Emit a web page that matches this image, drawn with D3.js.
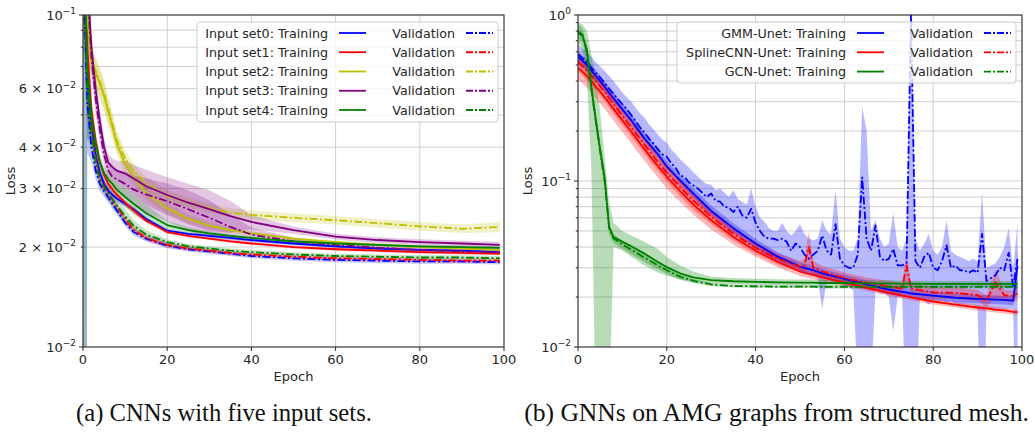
<!DOCTYPE html>
<html>
<head>
<meta charset="utf-8">
<script src="https://cdn.jsdelivr.net/npm/d3@7"></script>
<style>
  body { margin: 0; background: #fff; }
  svg { display: block; font-family: "DejaVu Sans", sans-serif; }
</style>
</head>
<body>
<svg id="fig" width="1035" height="436"></svg>
<script>
// ===== Data: (a) CNNs, five input sets =====
const epochsL = [0,1,2,3,4,5,6,7,8,10,12,15,20,25,30,35,40,50,60,70,80,90,99];

const set0Train = [0.2,0.065,0.047,0.038,0.0335,0.031,0.0296,0.0287,0.028,0.027,0.026,0.0243,0.0224,0.0219,0.0216,0.0213,0.021,0.0205,0.0201,0.0198,0.0196,0.0195,0.0193];
const set0Val   = [0.15,0.055,0.04,0.034,0.031,0.0295,0.0282,0.027,0.0258,0.0237,0.0222,0.0212,0.0202,0.0197,0.0194,0.0191,0.0188,0.0185,0.0183,0.0182,0.0181,0.0181,0.018];
const set1Train = [0.25,0.08,0.052,0.042,0.036,0.033,0.031,0.0298,0.0288,0.0272,0.0258,0.024,0.0222,0.0216,0.0212,0.0208,0.0205,0.02,0.0197,0.0195,0.0193,0.0192,0.0191];
const set1Val   = [0.2,0.07,0.046,0.037,0.032,0.0305,0.029,0.0278,0.0265,0.0243,0.0226,0.0213,0.0203,0.0198,0.0195,0.0192,0.019,0.0187,0.0185,0.0184,0.0183,0.0182,0.0182];
const set2Train = [0.3,0.1,0.072,0.067,0.062,0.057,0.051,0.046,0.041,0.0355,0.0325,0.029,0.0262,0.0243,0.0232,0.0225,0.022,0.0212,0.0207,0.0203,0.02,0.0198,0.0196];
const set2Val   = [0.3,0.1,0.073,0.068,0.063,0.058,0.052,0.047,0.042,0.037,0.034,0.031,0.0285,0.0272,0.0262,0.0254,0.025,0.0245,0.0241,0.0236,0.0231,0.0227,0.023];
const set3Train = [0.35,0.13,0.08,0.06,0.048,0.04,0.036,0.0348,0.034,0.0333,0.0322,0.0305,0.0287,0.0272,0.026,0.0248,0.0238,0.0225,0.0215,0.021,0.0207,0.0205,0.0203];
const set3Val   = [0.3,0.12,0.075,0.056,0.045,0.038,0.034,0.0325,0.032,0.031,0.0298,0.0288,0.0275,0.026,0.0245,0.023,0.0218,0.0208,0.0203,0.0199,0.0196,0.0194,0.0193];
const set4Train = [0.22,0.07,0.05,0.041,0.036,0.0335,0.032,0.031,0.0298,0.0283,0.027,0.0253,0.0233,0.0225,0.022,0.0216,0.0213,0.0208,0.0205,0.0203,0.0201,0.02,0.0199];
const set4Val   = [0.18,0.06,0.044,0.036,0.032,0.0303,0.029,0.0278,0.0267,0.0248,0.0232,0.0218,0.0207,0.0201,0.0198,0.0195,0.0193,0.019,0.0188,0.0187,0.0186,0.0186,0.0185];

// relative std (band half width / mean); ~1 at epoch 0 means the band runs off the log axis
const set0TrainSd = [0.5,0.35,0.1,0.06,0.04,0.035,0.03,0.03,0.025,0.02,0.02,0.015,0.012,0.01,0.01,0.01,0.01,0.01,0.01,0.01,0.01,0.01,0.01];
const set0ValSd   = [0.999999999999,0.3,0.1,0.06,0.05,0.04,0.035,0.035,0.03,0.025,0.025,0.02,0.018,0.016,0.016,0.016,0.016,0.016,0.016,0.016,0.016,0.016,0.016];
const set1TrainSd = [0.5,0.3,0.1,0.06,0.04,0.035,0.03,0.03,0.025,0.02,0.02,0.015,0.012,0.01,0.01,0.01,0.01,0.01,0.01,0.01,0.01,0.01,0.01];
const set1ValSd   = [0.5,0.3,0.1,0.06,0.05,0.04,0.035,0.035,0.03,0.025,0.025,0.02,0.018,0.016,0.016,0.016,0.016,0.016,0.016,0.016,0.016,0.016,0.016];
const set2TrainSd = [0.5,0.3,0.1,0.1,0.1,0.1,0.09,0.08,0.07,0.06,0.05,0.045,0.04,0.03,0.025,0.02,0.015,0.012,0.012,0.012,0.012,0.012,0.012];
const set2ValSd   = [0.5,0.3,0.1,0.1,0.1,0.1,0.09,0.08,0.07,0.06,0.05,0.045,0.04,0.035,0.03,0.03,0.03,0.03,0.03,0.03,0.03,0.03,0.035];
const set3TrainSd = [0.5,0.3,0.12,0.1,0.08,0.07,0.06,0.06,0.07,0.09,0.1,0.12,0.13,0.14,0.14,0.11,0.05,0.025,0.02,0.02,0.02,0.02,0.02];
const set3ValSd   = [0.5,0.3,0.12,0.1,0.08,0.07,0.06,0.06,0.07,0.09,0.1,0.12,0.13,0.14,0.13,0.09,0.05,0.025,0.02,0.02,0.02,0.02,0.02];
const set4TrainSd = [0.5,0.3,0.1,0.06,0.05,0.05,0.05,0.05,0.06,0.07,0.07,0.06,0.03,0.02,0.015,0.012,0.01,0.01,0.01,0.01,0.01,0.01,0.01];
const set4ValSd   = [0.999999999999,0.3,0.1,0.06,0.05,0.05,0.05,0.05,0.05,0.05,0.04,0.03,0.02,0.016,0.016,0.016,0.016,0.016,0.016,0.016,0.016,0.016,0.016];

// ===== Data: (b) GNNs on AMG graphs =====
const epochsR = [0,1,2,3,4,5,6,7,8,10,12,15,18,20,23,26,30,35,40,45,50,51,52,53,55,60,65,70,73,74,75,80,85,90,92,94,96,98,99];

const gmmTrain   = [0.56,0.53,0.5,0.465,0.43,0.4,0.37,0.34,0.315,0.27,0.232,0.18,0.145,0.122,0.101,0.084,0.066,0.052,0.042,0.035,0.0305,0.03,0.0295,0.029,0.0278,0.0257,0.0238,0.0222,0.0215,0.0213,0.021,0.0204,0.0198,0.0195,0.0194,0.0193,0.0192,0.019,0.031];
const gmmTrainSd = [0.08,0.08,0.08,0.08,0.08,0.08,0.08,0.08,0.08,0.08,0.08,0.08,0.08,0.08,0.08,0.08,0.08,0.07,0.07,0.06,0.06,0.06,0.06,0.06,0.06,0.06,0.06,0.06,0.06,0.06,0.06,0.06,0.06,0.06,0.06,0.06,0.06,0.06,0.3];
const splineTrain   = [0.48,0.455,0.43,0.4,0.37,0.345,0.32,0.295,0.272,0.232,0.198,0.155,0.123,0.106,0.087,0.072,0.058,0.046,0.038,0.0325,0.0285,0.028,0.0276,0.0272,0.0263,0.0244,0.0227,0.0212,0.0204,0.0202,0.0199,0.0188,0.018,0.0173,0.0171,0.0168,0.0166,0.0163,0.0162];
const splineTrainSd = [0.15,0.15,0.15,0.15,0.15,0.15,0.15,0.15,0.15,0.15,0.15,0.15,0.15,0.15,0.14,0.13,0.12,0.1,0.08,0.07,0.06,0.06,0.06,0.06,0.05,0.045,0.04,0.04,0.04,0.04,0.04,0.04,0.04,0.04,0.04,0.04,0.04,0.04,0.04];
const splineVal   = [0.52,0.49,0.46,0.43,0.4,0.37,0.345,0.315,0.29,0.247,0.21,0.165,0.13,0.112,0.092,0.076,0.061,0.048,0.0395,0.034,0.0305,0.031,0.04,0.03,0.0285,0.026,0.0243,0.0232,0.0225,0.031,0.0225,0.0213,0.0212,0.0205,0.019,0.0245,0.0205,0.0203,0.021];
const splineValSd = [0.12,0.12,0.12,0.12,0.12,0.12,0.12,0.12,0.12,0.12,0.12,0.12,0.12,0.12,0.12,0.12,0.1,0.09,0.08,0.08,0.08,0.1,0.25,0.1,0.08,0.08,0.08,0.08,0.08,0.2,0.08,0.08,0.08,0.08,0.08,0.2,0.08,0.08,0.1];
const gcnTrain   = [0.78,0.75,0.62,0.37,0.235,0.155,0.105,0.053,0.046,0.043,0.0405,0.0365,0.0325,0.0303,0.0278,0.0263,0.0253,0.0249,0.0247,0.0245,0.0244,0.0244,0.0244,0.0244,0.0243,0.0243,0.0242,0.0242,0.0241,0.0241,0.0241,0.024,0.024,0.024,0.024,0.024,0.024,0.024,0.024];
const gcnTrainLo = [0.68,0.62,0.42,0.12,0.004,0.003,0.003,0.004,0.04,0.038,0.035,0.031,0.028,0.027,0.0255,0.0248,0.0242,0.0239,0.0237,0.0236,0.0235,0.0235,0.0235,0.0235,0.0234,0.0234,0.0234,0.0234,0.0233,0.0233,0.0233,0.0233,0.0233,0.0233,0.0233,0.0233,0.0233,0.0233,0.0233];
const gcnTrainHi = [0.9,0.88,0.8,0.58,0.42,0.26,0.14,0.075,0.056,0.05,0.047,0.043,0.039,0.035,0.031,0.0285,0.0265,0.026,0.0258,0.0256,0.0255,0.0255,0.0255,0.0254,0.0254,0.0253,0.0252,0.0252,0.0251,0.0251,0.0251,0.025,0.025,0.025,0.025,0.025,0.025,0.025,0.025];
const gcnVal   = [0.8,0.76,0.6,0.36,0.23,0.15,0.1,0.052,0.045,0.0415,0.0385,0.0345,0.031,0.029,0.0265,0.025,0.0238,0.0233,0.0232,0.0231,0.0231,0.0231,0.0231,0.0231,0.023,0.023,0.023,0.023,0.023,0.023,0.023,0.023,0.023,0.023,0.023,0.023,0.023,0.023,0.023];
const gcnValSd = [0.1,0.1,0.1,0.1,0.1,0.1,0.1,0.08,0.06,0.06,0.06,0.06,0.05,0.05,0.04,0.03,0.02,0.02,0.02,0.02,0.02,0.02,0.02,0.02,0.02,0.02,0.02,0.02,0.02,0.02,0.02,0.02,0.02,0.02,0.02,0.02,0.02,0.02,0.02];

// GMM-Unet validation, one value per epoch 0..99 (noisy)
const gmmVal = [0.58,0.55,0.52,0.48,0.45,0.42,0.39,0.36,0.335,0.31,
  0.29,0.27,0.25,0.228,0.21,0.195,0.18,0.168,0.155,0.145,
  0.14,0.128,0.12,0.108,0.106,0.098,0.094,0.09,0.085,0.08,
  0.084,0.076,0.075,0.07,0.069,0.065,0.07,0.062,0.06,0.068,
  0.056,0.05,0.046,0.045,0.045,0.044,0.045,0.043,0.038,0.042,
  0.04,0.036,0.034,0.036,0.038,0.047,0.038,0.036,0.055,0.034,
  0.031,0.03,0.03,0.036,0.105,0.045,0.038,0.054,0.035,0.033,
  0.034,0.039,0.031,0.031,0.032,1.05,0.033,0.03,0.035,0.037,
  0.03,0.029,0.033,0.041,0.03,0.031,0.029,0.029,0.028,0.029,
  0.028,0.048,0.025,0.026,0.027,0.03,0.029,0.037,0.023,0.034];
const gmmValHi = [0.66,0.63,0.6,0.56,0.52,0.49,0.46,0.43,0.4,0.37,
  0.34,0.32,0.3,0.275,0.255,0.24,0.22,0.205,0.19,0.178,
  0.17,0.155,0.146,0.135,0.128,0.12,0.113,0.106,0.1,0.096,
  0.095,0.088,0.09,0.085,0.08,0.088,0.078,0.075,0.072,0.09,
  0.07,0.06,0.057,0.052,0.05,0.05,0.056,0.05,0.047,0.05,
  0.055,0.048,0.045,0.044,0.045,0.058,0.05,0.048,0.088,0.045,
  0.04,0.038,0.038,0.045,0.28,0.2,0.05,0.058,0.045,0.04,
  0.042,0.064,0.04,0.038,0.045,1.5,0.045,0.038,0.042,0.048,
  0.038,0.036,0.04,0.058,0.038,0.036,0.035,0.034,0.033,0.034,
  0.033,0.086,0.03,0.031,0.032,0.035,0.04,0.052,0.03,0.055];
const gmmValLo = [0.52,0.49,0.46,0.43,0.4,0.375,0.35,0.322,0.3,0.28,
  0.26,0.243,0.225,0.205,0.19,0.175,0.162,0.15,0.14,0.13,
  0.122,0.113,0.105,0.097,0.091,0.085,0.08,0.075,0.07,0.066,
  0.063,0.06,0.057,0.054,0.051,0.049,0.047,0.045,0.043,0.041,
  0.039,0.038,0.036,0.035,0.034,0.033,0.032,0.031,0.03,0.03,
  0.029,0.028,0.027,0.027,0.026,0.017,0.025,0.025,0.024,0.024,
  0.023,0.023,0.022,0.006,0.001,0.001,0.006,0.022,0.021,0.021,
  0.02,0.0125,0.02,0.02,0.003,0.001,0.003,0.02,0.019,0.018,
  0.019,0.019,0.019,0.0185,0.019,0.018,0.018,0.018,0.018,0.018,
  0.017,0.001,0.017,0.017,0.017,0.017,0.017,0.017,0.017,0.001];

const xTicks = [0,20,40,60,80,100];

const svg = d3.select("#fig");
const cText = "#262626", cGrid = "#cfcfcf", cSpine = "#262626";

function withSd(epochs, vals, sd){
  return epochs.map((e,i) => ({ e, v: vals[i], lo: vals[i]*(1-sd[i]), hi: vals[i]*(1+sd[i]) }));
}
function withBounds(epochs, vals, lo, hi){
  return epochs.map((e,i) => ({ e, v: vals[i], lo: lo[i], hi: hi[i] }));
}

function sciLabel(g, x, y, mant, exp){
  const t = g.append("text").attr("x", x).attr("y", y + 4.5)
    .attr("text-anchor","end").attr("font-size", 13).attr("fill", cText);
  t.append("tspan").text(mant ? mant + " \u00d7 10" : "10");
  t.append("tspan").attr("dy", -5.5).attr("font-size", 9).text(exp);
}

function drawPanel(p){
  const x = d3.scaleLinear().domain([0,100]).range([p.x0, p.x1]);
  const y = d3.scaleLog().domain(p.yDomain).range([p.y1, p.y0]);
  const g = svg.append("g");

  const clipId = "clip-" + p.id;
  svg.append("defs").append("clipPath").attr("id", clipId)
    .append("rect").attr("x", p.x0).attr("y", p.y0).attr("width", p.x1 - p.x0).attr("height", p.y1 - p.y0);

  // grid
  const grid = g.append("g").attr("stroke", cGrid).attr("stroke-width", 1);
  p.gridY.forEach(v => grid.append("line").attr("x1", p.x0).attr("x2", p.x1).attr("y1", y(v)).attr("y2", y(v)));
  xTicks.forEach(v => grid.append("line").attr("x1", x(v)).attr("x2", x(v)).attr("y1", p.y0).attr("y2", p.y1));

  const plot = g.append("g").attr("clip-path", `url(#${clipId})`);
  const area = d3.area().x(d => x(d.e)).y0(d => y(d.lo)).y1(d => y(d.hi));
  const line = d3.line().x(d => x(d.e)).y(d => y(d.v));

  // bands under every line, as matplotlib collections
  p.series.forEach(s => {
    plot.append("path").datum(s.pts).attr("d", area)
      .attr("fill", s.color).attr("fill-opacity", p.bandAlpha).attr("stroke", "none");
  });
  p.series.forEach(s => {
    plot.append("path").datum(s.pts).attr("d", line)
      .attr("fill","none").attr("stroke", s.color).attr("stroke-width", 1.8)
      .attr("stroke-dasharray", s.dash ? "8,2.5,2,2.5" : null)
      .attr("stroke-linejoin","round");
  });

  // spines
  g.append("rect").attr("x", p.x0).attr("y", p.y0).attr("width", p.x1 - p.x0).attr("height", p.y1 - p.y0)
    .attr("fill","none").attr("stroke", cSpine).attr("stroke-width", 1);

  // x ticks
  xTicks.forEach(v => {
    g.append("line").attr("x1", x(v)).attr("x2", x(v)).attr("y1", p.y1).attr("y2", p.y1 + 4).attr("stroke", cSpine);
    g.append("text").attr("x", x(v)).attr("y", p.y1 + 17).attr("text-anchor","middle")
      .attr("font-size", 13).attr("fill", cText).text(v);
  });
  // y ticks
  p.gridY.forEach(v => {
    const major = p.yMajor.includes(v);
    g.append("line").attr("x1", p.x0 - (major ? 4 : 2.2)).attr("x2", p.x0).attr("y1", y(v)).attr("y2", y(v)).attr("stroke", cSpine);
  });
  p.yLabels.forEach(l => sciLabel(g, p.x0 - 7, y(l.v), l.mant, l.exp));

  g.append("text").attr("x", (p.x0 + p.x1) / 2).attr("y", p.y1 + 34).attr("text-anchor","middle")
    .attr("font-size", 13).attr("fill", cText).text("Epoch");
  g.append("text").attr("transform", `translate(${p.lossX},${(p.y0 + p.y1) / 2}) rotate(-90)`)
    .attr("text-anchor","middle").attr("font-size", 13).attr("fill", cText).text("Loss");

  // legend
  const L = p.legend;
  const lg = g.append("g");
  lg.append("rect").attr("x", L.x).attr("y", L.y).attr("width", L.w).attr("height", L.h).attr("rx", 3)
    .attr("fill", "#fff").attr("fill-opacity", 0.8).attr("stroke", "#cccccc");
  L.rows.forEach((r, i) => {
    const cy = L.y + 11 + i * L.step;
    [[r.train, L.t1, L.h1, false], ["Validation", L.t2, L.h2, true]].forEach(([label, tx, hx, dash]) => {
      lg.append("text").attr("x", tx).attr("y", cy + 4.5).attr("text-anchor","end")
        .attr("font-size", 12.7).attr("fill", cText).text(label);
      lg.append("line").attr("x1", hx).attr("x2", hx + 27).attr("y1", cy).attr("y2", cy)
        .attr("stroke", r.color).attr("stroke-width", 1.8).attr("stroke-dasharray", dash ? "7,2,2,2" : null);
    });
  });
}

const cols = { blue: "#0000ff", red: "#ff0000", yellow: "#bfbf00", purple: "#800080", green: "#008000" };

drawPanel({
  id: "a", x0: 83, x1: 504, y0: 15, y1: 347, yDomain: [0.01, 0.1], lossX: 15, bandAlpha: 0.22,
  gridY: [0.01,0.02,0.03,0.04,0.05,0.06,0.07,0.08,0.09,0.1], yMajor: [0.01, 0.1],
  yLabels: [{v:0.1,exp:"\u22121"},{v:0.06,mant:"6",exp:"\u22122"},{v:0.04,mant:"4",exp:"\u22122"},
            {v:0.03,mant:"3",exp:"\u22122"},{v:0.02,mant:"2",exp:"\u22122"},{v:0.01,exp:"\u22122"}],
  series: [
    { color: cols.blue,   pts: withSd(epochsL, set0Train, set0TrainSd) },
    { color: cols.blue,   pts: withSd(epochsL, set0Val, set0ValSd), dash: true },
    { color: cols.red,    pts: withSd(epochsL, set1Train, set1TrainSd) },
    { color: cols.red,    pts: withSd(epochsL, set1Val, set1ValSd), dash: true },
    { color: cols.yellow, pts: withSd(epochsL, set2Train, set2TrainSd) },
    { color: cols.yellow, pts: withSd(epochsL, set2Val, set2ValSd), dash: true },
    { color: cols.purple, pts: withSd(epochsL, set3Train, set3TrainSd) },
    { color: cols.purple, pts: withSd(epochsL, set3Val, set3ValSd), dash: true },
    { color: cols.green,  pts: withSd(epochsL, set4Train, set4TrainSd) },
    { color: cols.green,  pts: withSd(epochsL, set4Val, set4ValSd), dash: true }
  ],
  legend: { x: 197, y: 22, w: 301, h: 100, step: 19.25, t1: 328, h1: 339, t2: 455, h2: 466,
    rows: [
      { train: "Input set0: Training", color: cols.blue },
      { train: "Input set1: Training", color: cols.red },
      { train: "Input set2: Training", color: cols.yellow },
      { train: "Input set3: Training", color: cols.purple },
      { train: "Input set4: Training", color: cols.green }
    ] }
});

drawPanel({
  id: "b", x0: 578, x1: 1022, y0: 15, y1: 347, yDomain: [0.01, 1], lossX: 532, bandAlpha: 0.28,
  gridY: [0.01,0.02,0.03,0.04,0.05,0.06,0.07,0.08,0.09,0.1,0.2,0.3,0.4,0.5,0.6,0.7,0.8,0.9,1],
  yMajor: [0.01, 0.1, 1],
  yLabels: [{v:1,exp:"0"},{v:0.1,exp:"\u22121"},{v:0.01,exp:"\u22122"}],
  series: [
    { color: cols.blue,  pts: withSd(epochsR, gmmTrain, gmmTrainSd) },
    { color: cols.blue,  pts: withBounds(d3.range(gmmVal.length), gmmVal, gmmValLo, gmmValHi), dash: true },
    { color: cols.red,   pts: withSd(epochsR, splineTrain, splineTrainSd) },
    { color: cols.red,   pts: withSd(epochsR, splineVal, splineValSd), dash: true },
    { color: cols.green, pts: withBounds(epochsR, gcnTrain, gcnTrainLo, gcnTrainHi) },
    { color: cols.green, pts: withSd(epochsR, gcnVal, gcnValSd), dash: true }
  ],
  legend: { x: 677, y: 22, w: 339, h: 61, step: 19.3, t1: 846, h1: 857, t2: 973, h2: 984,
    rows: [
      { train: "GMM-Unet: Training", color: cols.blue },
      { train: "SplineCNN-Unet: Training", color: cols.red },
      { train: "GCN-Unet: Training", color: cols.green }
    ] }
});

// captions (LaTeX-like serif), sized to the reference widths
[["(a) CNNs with five input sets.", 224, 296], ["(b) GNNs on AMG graphs from structured mesh.", 776.5, 505]]
  .forEach(([txt, cx, target]) => {
    const t = svg.append("text").attr("x", cx).attr("y", 421).attr("text-anchor","middle")
      .attr("font-family", "'Liberation Serif', serif").attr("font-size", 20).attr("fill", "#111").text(txt);
    const w = t.node().getComputedTextLength();
    t.attr("font-size", 20 * target / w);
  });
</script>
</body>
</html>
